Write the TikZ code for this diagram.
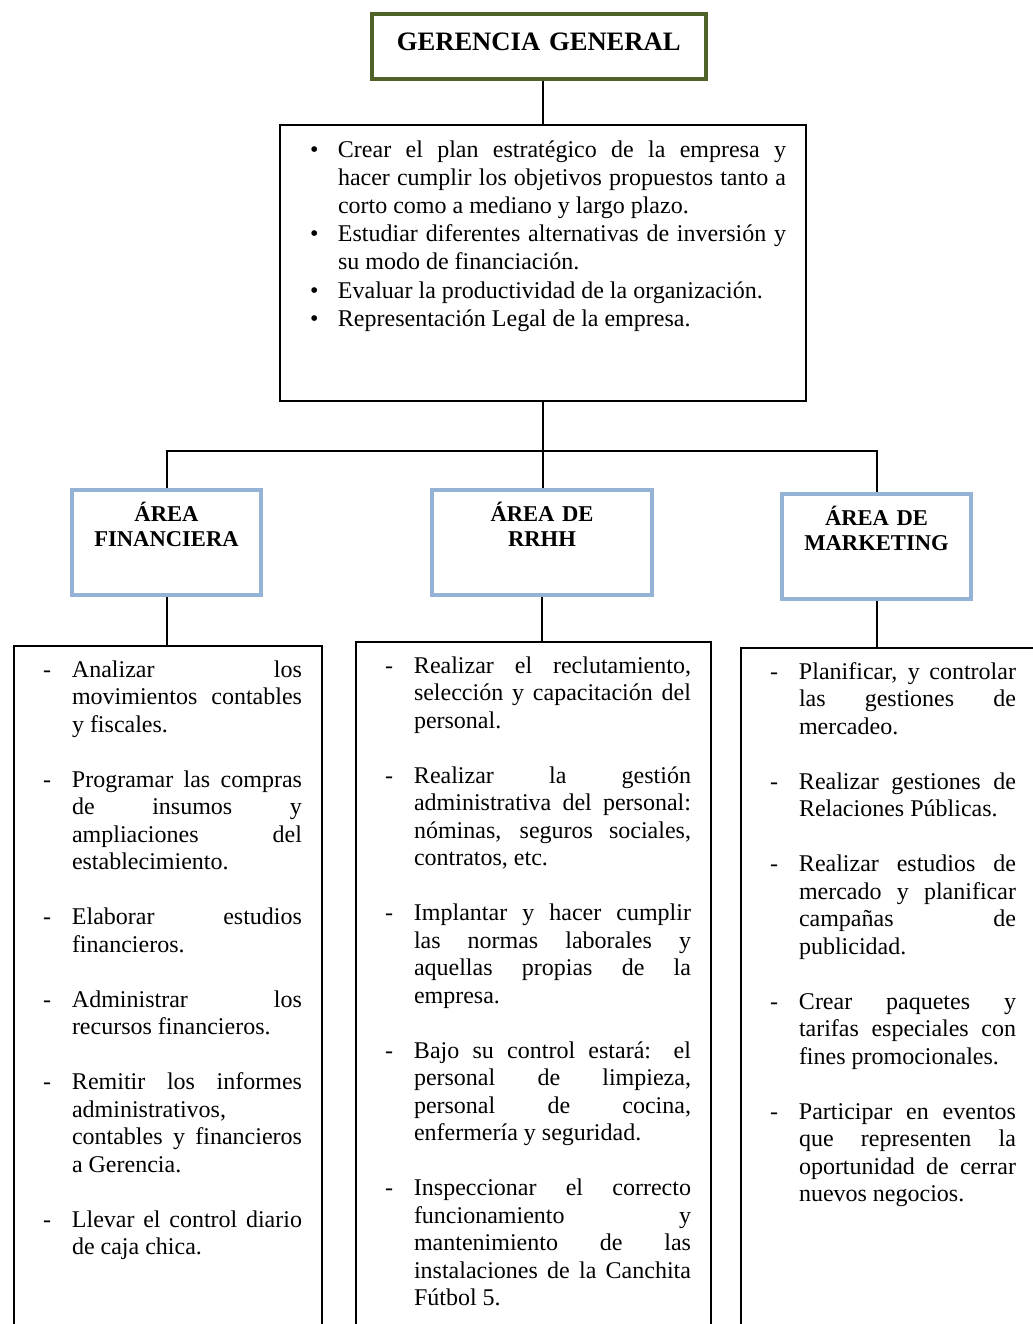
\documentclass[tikz,border=0pt]{standalone}
\usepackage{fontspec}
\setmainfont{Liberation Serif}
\usetikzlibrary{positioning}
\definecolor{gerenciaolive}{RGB}{79,98,40}
\definecolor{areablue}{RGB}{149,179,215}

\newcommand{\dashitem}[1]{\noindent\llap{\makebox[14.5pt][l]{-}}#1\par\vspace{13.75pt}}
\newcommand{\dotitem}[1]{\noindent\llap{\makebox[14pt][l]{\textbullet}}#1\par}

\begin{document}
\begin{tikzpicture}[x=0.5pt, y=-0.5pt,
  gerbox/.style={rectangle, draw=gerenciaolive, line width=1.75pt,
    inner xsep=4pt, inner ysep=9.5pt, text width=159pt, align=center,
    text height=9pt, text depth=4.5pt,
    font=\fontsize{13.3}{15}\selectfont\bfseries},
  areabox/.style={rectangle, draw=areablue, line width=2pt,
    inner xsep=4pt, inner ysep=6.5pt, align=center,
    text height=9pt, text depth=30.5pt,
    font=\fontsize{11.3}{12.5}\selectfont\bfseries},
  funclist/.style={rectangle, draw=black, line width=1pt, align=justify,
    inner xsep=10pt, inner ysep=7pt, text height=8.5pt, text depth=330pt,
    font=\fontsize{12}{13.75}\selectfont,
    execute at begin node={\leftskip=19pt\rightskip=0pt\spaceskip=0pt
      \xspaceskip=0pt\parfillskip=0pt plus 1fil\hyphenpenalty=10000}},
  link/.style={draw=black, line width=1pt}
]
  \useasboundingbox (0,0) rectangle (1033,1324);
  \clip (0,0) rectangle (1033,1324);

  \node[gerbox, anchor=north west] (gerencia) at (370,12) {GERENCIA GENERAL};
  \node[funclist, anchor=north west, text width=243pt, inner ysep=7.5pt,
    text depth=114.5pt, font=\fontsize{12}{14.1}\selectfont] (tasks) at (279,124) {%
    \dotitem{Crear el plan estratégico de la empresa y\linebreak hacer cumplir
      los objetivos propuestos tanto a\linebreak corto como a mediano y largo plazo.}%
    \dotitem{Estudiar diferentes alternativas de inversión y\linebreak su modo
      de financiación.}%
    \dotitem{Evaluar la productividad de la organización.}%
    \dotitem{Representación Legal de la empresa.}};

  \coordinate[below=24.5pt of tasks.south] (bus);

  \node[areabox, anchor=north west, text width=86.5pt] (fin) at (70,488)
    {ÁREA\\FINANCIERA};
  \node[areabox, anchor=north west, text width=102pt] (rrhh) at (430,488)
    {ÁREA DE\\RRHH};
  \node[areabox, anchor=north west, text width=86.5pt] (mkt) at (780,492)
    {ÁREA DE\\MARKETING};

  \node[funclist, anchor=north west, text width=134pt] (finlist) at (13,645) {%
    \dashitem{Analizar los\linebreak movimientos contables\linebreak y fiscales.}%
    \dashitem{Programar las compras\linebreak de insumos y\linebreak
      ampliaciones del\linebreak establecimiento.}%
    \dashitem{Elaborar estudios\linebreak financieros.}%
    \dashitem{Administrar los\linebreak recursos financieros.}%
    \dashitem{Remitir los informes\linebreak administrativos,\linebreak
      contables y financieros\linebreak a Gerencia.}%
    \dashitem{Llevar el control diario\linebreak de caja chica.}};
  \node[funclist, anchor=north west, text width=157.5pt] (rrhhlist) at (355,641) {%
    \dashitem{Realizar el reclutamiento,\linebreak selección y capacitación
      del\linebreak personal.}%
    \dashitem{Realizar la gestión\linebreak administrativa del personal:\linebreak
      nóminas, seguros sociales,\linebreak contratos, etc.}%
    \dashitem{Implantar y hacer cumplir\linebreak las normas laborales y\linebreak
      aquellas propias de la\linebreak empresa.}%
    \dashitem{Bajo su control estará: el\linebreak personal de limpieza,\linebreak
      personal de cocina,\linebreak enfermería y seguridad.}%
    \dashitem{Inspeccionar el correcto\linebreak funcionamiento y\linebreak
      mantenimiento de las\linebreak instalaciones de la Canchita\linebreak
      Fútbol 5.}};
  \node[funclist, anchor=north west, text width=127.5pt] (mktlist) at (740,647) {%
    \dashitem{Planificar, y controlar\linebreak las gestiones de\linebreak mercadeo.}%
    \dashitem{Realizar gestiones de\linebreak Relaciones Públicas.}%
    \dashitem{Realizar estudios de\linebreak mercado y planificar\linebreak
      campañas de\linebreak publicidad.}%
    \dashitem{Crear paquetes y\linebreak tarifas especiales con\linebreak
      fines promocionales.}%
    \dashitem{Participar en eventos\linebreak que representen la\linebreak
      oportunidad de cerrar\linebreak nuevos negocios.}};

  \draw[link] (gerencia.south -| tasks.north) -- (tasks.north);
  \draw[link] (tasks.south) -- (tasks.south |- rrhh.north);
  \draw[link] (fin.north) |- (bus) -| (mkt.north);
  \draw[link] (fin.south) -- (fin.south |- finlist.north);
  \draw[link] (rrhh.south) -- (rrhh.south |- rrhhlist.north);
  \draw[link] (mkt.south) -- (mkt.south |- mktlist.north);
\end{tikzpicture}
\end{document}
